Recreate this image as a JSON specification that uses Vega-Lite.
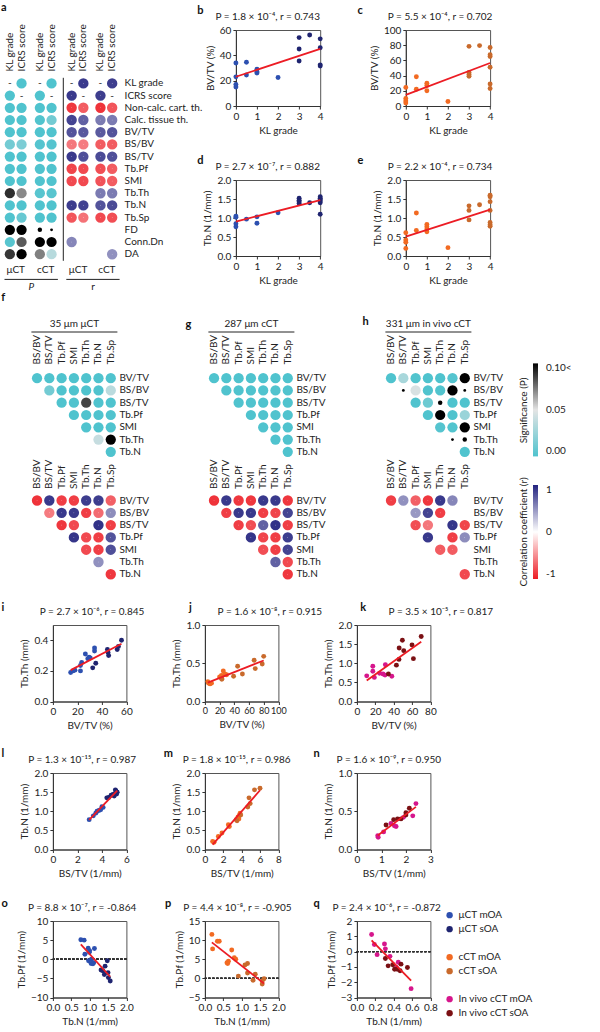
{
"$schema": "https://vega.github.io/schema/vega-lite/v6.json",
"padding": {"left": 1, "top": 1, "right": 0, "bottom": 0},
"background": "white",
"datasets": {
"amat": [
{"metric":"KL grade","modality":"μCT","score":"KL grade","P":null,"r":null},
{"metric":"KL grade","modality":"μCT","score":"ICRS score","P":0.0001,"r":0.9},
{"metric":"KL grade","modality":"cCT","score":"KL grade","P":null,"r":null},
{"metric":"KL grade","modality":"cCT","score":"ICRS score","P":0.0001,"r":0.88},
{"metric":"ICRS score","modality":"μCT","score":"KL grade","P":0.0001,"r":0.9},
{"metric":"ICRS score","modality":"μCT","score":"ICRS score","P":null,"r":null},
{"metric":"ICRS score","modality":"cCT","score":"KL grade","P":0.0001,"r":0.88},
{"metric":"ICRS score","modality":"cCT","score":"ICRS score","P":null,"r":null},
{"metric":"Non-calc. cart. th.","modality":"μCT","score":"KL grade","P":0.0001,"r":-0.88},
{"metric":"Non-calc. cart. th.","modality":"μCT","score":"ICRS score","P":0.0003,"r":-0.72},
{"metric":"Non-calc. cart. th.","modality":"cCT","score":"KL grade","P":0.0001,"r":-0.9},
{"metric":"Non-calc. cart. th.","modality":"cCT","score":"ICRS score","P":0.0002,"r":-0.75},
{"metric":"Calc. tissue th.","modality":"μCT","score":"KL grade","P":0.0001,"r":0.85},
{"metric":"Calc. tissue th.","modality":"μCT","score":"ICRS score","P":0.0005,"r":0.72},
{"metric":"Calc. tissue th.","modality":"cCT","score":"KL grade","P":0.001,"r":0.6},
{"metric":"Calc. tissue th.","modality":"cCT","score":"ICRS score","P":0.012,"r":0.6},
{"metric":"BV/TV","modality":"μCT","score":"KL grade","P":0.0002,"r":0.78},
{"metric":"BV/TV","modality":"μCT","score":"ICRS score","P":0.0004,"r":0.76},
{"metric":"BV/TV","modality":"cCT","score":"KL grade","P":0.0005,"r":0.75},
{"metric":"BV/TV","modality":"cCT","score":"ICRS score","P":0.0003,"r":0.78},
{"metric":"BS/BV","modality":"μCT","score":"KL grade","P":0.012,"r":-0.6},
{"metric":"BS/BV","modality":"μCT","score":"ICRS score","P":0.015,"r":-0.58},
{"metric":"BS/BV","modality":"cCT","score":"KL grade","P":0.002,"r":-0.72},
{"metric":"BS/BV","modality":"cCT","score":"ICRS score","P":0.002,"r":-0.72},
{"metric":"BS/TV","modality":"μCT","score":"KL grade","P":0.0001,"r":0.9},
{"metric":"BS/TV","modality":"μCT","score":"ICRS score","P":0.0002,"r":0.8},
{"metric":"BS/TV","modality":"cCT","score":"KL grade","P":0.0001,"r":0.82},
{"metric":"BS/TV","modality":"cCT","score":"ICRS score","P":0.0001,"r":0.8},
{"metric":"Tb.Pf","modality":"μCT","score":"KL grade","P":0.0001,"r":-0.82},
{"metric":"Tb.Pf","modality":"μCT","score":"ICRS score","P":0.0002,"r":-0.8},
{"metric":"Tb.Pf","modality":"cCT","score":"KL grade","P":0.0003,"r":-0.78},
{"metric":"Tb.Pf","modality":"cCT","score":"ICRS score","P":0.0004,"r":-0.72},
{"metric":"SMI","modality":"μCT","score":"KL grade","P":0.0001,"r":-0.8},
{"metric":"SMI","modality":"μCT","score":"ICRS score","P":0.0002,"r":-0.8},
{"metric":"SMI","modality":"cCT","score":"KL grade","P":0.0004,"r":-0.76},
{"metric":"SMI","modality":"cCT","score":"ICRS score","P":0.0004,"r":-0.72},
{"metric":"Tb.Th","modality":"μCT","score":"KL grade","P":0.09,"r":0.4},
{"metric":"Tb.Th","modality":"μCT","score":"ICRS score","P":0.07,"r":0.42},
{"metric":"Tb.Th","modality":"cCT","score":"KL grade","P":0.003,"r":0.6},
{"metric":"Tb.Th","modality":"cCT","score":"ICRS score","P":0.003,"r":0.6},
{"metric":"Tb.N","modality":"μCT","score":"KL grade","P":0.0001,"r":0.88},
{"metric":"Tb.N","modality":"μCT","score":"ICRS score","P":0.0001,"r":0.86},
{"metric":"Tb.N","modality":"cCT","score":"KL grade","P":0.0002,"r":0.78},
{"metric":"Tb.N","modality":"cCT","score":"ICRS score","P":0.0001,"r":0.82},
{"metric":"Tb.Sp","modality":"μCT","score":"KL grade","P":0.0005,"r":-0.75},
{"metric":"Tb.Sp","modality":"μCT","score":"ICRS score","P":0.008,"r":-0.62},
{"metric":"Tb.Sp","modality":"cCT","score":"KL grade","P":0.0005,"r":-0.8},
{"metric":"Tb.Sp","modality":"cCT","score":"ICRS score","P":0.0005,"r":-0.78},
{"metric":"FD","modality":"μCT","score":"KL grade","P":0.5,"r":0.2},
{"metric":"FD","modality":"μCT","score":"ICRS score","P":0.6,"r":0.15},
{"metric":"FD","modality":"cCT","score":"KL grade","P":0.7,"r":0.08},
{"metric":"FD","modality":"cCT","score":"ICRS score","P":0.9,"r":0.02},
{"metric":"Conn.Dn","modality":"μCT","score":"KL grade","P":0.003,"r":0.55},
{"metric":"Conn.Dn","modality":"μCT","score":"ICRS score","P":0.08,"r":0.4},
{"metric":"Conn.Dn","modality":"cCT","score":"KL grade","P":0.3,"r":0.25},
{"metric":"Conn.Dn","modality":"cCT","score":"ICRS score","P":0.4,"r":0.22},
{"metric":"DA","modality":"μCT","score":"KL grade","P":0.088,"r":0.4},
{"metric":"DA","modality":"μCT","score":"ICRS score","P":0.2,"r":0.3},
{"metric":"DA","modality":"cCT","score":"KL grade","P":0.072,"r":0.42},
{"metric":"DA","modality":"cCT","score":"ICRS score","P":0.035,"r":0.5}
],
"tri": [
{"set":"μCT","row":"BV/TV","col":"BS/BV","P":0.0001,"r":-0.9},
{"set":"μCT","row":"BV/TV","col":"BS/TV","P":0.0001,"r":0.9},
{"set":"μCT","row":"BV/TV","col":"Tb.Pf","P":0.0001,"r":-0.85},
{"set":"μCT","row":"BV/TV","col":"SMI","P":0.0001,"r":-0.85},
{"set":"μCT","row":"BV/TV","col":"Tb.Th","P":0.0001,"r":0.88},
{"set":"μCT","row":"BV/TV","col":"Tb.N","P":0.0001,"r":0.88},
{"set":"μCT","row":"BV/TV","col":"Tb.Sp","P":0.0003,"r":-0.7},
{"set":"μCT","row":"BS/BV","col":"BS/TV","P":0.012,"r":-0.58},
{"set":"μCT","row":"BS/BV","col":"Tb.Pf","P":0.0001,"r":0.9},
{"set":"μCT","row":"BS/BV","col":"SMI","P":0.0001,"r":0.9},
{"set":"μCT","row":"BS/BV","col":"Tb.Th","P":0.0001,"r":-0.85},
{"set":"μCT","row":"BS/BV","col":"Tb.N","P":0.0005,"r":-0.65},
{"set":"μCT","row":"BS/BV","col":"Tb.Sp","P":0.036,"r":0.52},
{"set":"μCT","row":"BS/TV","col":"Tb.Pf","P":0.0001,"r":-0.88},
{"set":"μCT","row":"BS/TV","col":"SMI","P":0.0002,"r":-0.8},
{"set":"μCT","row":"BS/TV","col":"Tb.Th","P":0.085,"r":0.35},
{"set":"μCT","row":"BS/TV","col":"Tb.N","P":0.0001,"r":0.93},
{"set":"μCT","row":"BS/TV","col":"Tb.Sp","P":0.0001,"r":-0.85},
{"set":"μCT","row":"Tb.Pf","col":"SMI","P":0.0001,"r":0.92},
{"set":"μCT","row":"Tb.Pf","col":"Tb.Th","P":0.0002,"r":-0.8},
{"set":"μCT","row":"Tb.Pf","col":"Tb.N","P":0.0001,"r":-0.85},
{"set":"μCT","row":"Tb.Pf","col":"Tb.Sp","P":0.0004,"r":0.78},
{"set":"μCT","row":"SMI","col":"Tb.Th","P":0.0002,"r":-0.8},
{"set":"μCT","row":"SMI","col":"Tb.N","P":0.0001,"r":-0.85},
{"set":"μCT","row":"SMI","col":"Tb.Sp","P":0.0003,"r":0.8},
{"set":"μCT","row":"Tb.Th","col":"Tb.N","P":0.04,"r":0.5},
{"set":"μCT","row":"Tb.Th","col":"Tb.Sp","P":0.3,"r":-0.3},
{"set":"μCT","row":"Tb.N","col":"Tb.Sp","P":0.0001,"r":-0.88},
{"set":"cCT","row":"BV/TV","col":"BS/BV","P":0.0001,"r":-0.9},
{"set":"cCT","row":"BV/TV","col":"BS/TV","P":0.0001,"r":0.9},
{"set":"cCT","row":"BV/TV","col":"Tb.Pf","P":0.0001,"r":-0.88},
{"set":"cCT","row":"BV/TV","col":"SMI","P":0.0001,"r":-0.88},
{"set":"cCT","row":"BV/TV","col":"Tb.Th","P":0.0001,"r":0.9},
{"set":"cCT","row":"BV/TV","col":"Tb.N","P":0.0001,"r":0.9},
{"set":"cCT","row":"BV/TV","col":"Tb.Sp","P":0.0001,"r":-0.88},
{"set":"cCT","row":"BS/BV","col":"BS/TV","P":0.0002,"r":-0.85},
{"set":"cCT","row":"BS/BV","col":"Tb.Pf","P":0.0001,"r":0.9},
{"set":"cCT","row":"BS/BV","col":"SMI","P":0.0001,"r":0.9},
{"set":"cCT","row":"BS/BV","col":"Tb.Th","P":0.0002,"r":-0.85},
{"set":"cCT","row":"BS/BV","col":"Tb.N","P":0.0003,"r":-0.82},
{"set":"cCT","row":"BS/BV","col":"Tb.Sp","P":0.0002,"r":0.85},
{"set":"cCT","row":"BS/TV","col":"Tb.Pf","P":0.0002,"r":-0.85},
{"set":"cCT","row":"BS/TV","col":"SMI","P":0.0004,"r":-0.78},
{"set":"cCT","row":"BS/TV","col":"Tb.Th","P":0.0005,"r":0.72},
{"set":"cCT","row":"BS/TV","col":"Tb.N","P":0.0001,"r":0.93},
{"set":"cCT","row":"BS/TV","col":"Tb.Sp","P":0.0002,"r":-0.85},
{"set":"cCT","row":"Tb.Pf","col":"SMI","P":0.0001,"r":0.92},
{"set":"cCT","row":"Tb.Pf","col":"Tb.Th","P":0.0002,"r":-0.82},
{"set":"cCT","row":"Tb.Pf","col":"Tb.N","P":0.0002,"r":-0.85},
{"set":"cCT","row":"Tb.Pf","col":"Tb.Sp","P":0.0001,"r":0.88},
{"set":"cCT","row":"SMI","col":"Tb.Th","P":0.0004,"r":-0.78},
{"set":"cCT","row":"SMI","col":"Tb.N","P":0.0002,"r":-0.85},
{"set":"cCT","row":"SMI","col":"Tb.Sp","P":0.0002,"r":0.85},
{"set":"cCT","row":"Tb.Th","col":"Tb.N","P":0.0005,"r":0.72},
{"set":"cCT","row":"Tb.Th","col":"Tb.Sp","P":0.0003,"r":-0.8},
{"set":"cCT","row":"Tb.N","col":"Tb.Sp","P":0.0001,"r":-0.88},
{"set":"in vivo","row":"BV/TV","col":"BS/BV","P":0.0001,"r":-0.85},
{"set":"in vivo","row":"BV/TV","col":"BS/TV","P":0.03,"r":0.5},
{"set":"in vivo","row":"BV/TV","col":"Tb.Pf","P":0.001,"r":-0.7},
{"set":"in vivo","row":"BV/TV","col":"SMI","P":0.0001,"r":-0.88},
{"set":"in vivo","row":"BV/TV","col":"Tb.Th","P":0.0001,"r":0.9},
{"set":"in vivo","row":"BV/TV","col":"Tb.N","P":0.002,"r":0.55},
{"set":"in vivo","row":"BV/TV","col":"Tb.Sp","P":0.4,"r":-0.2},
{"set":"in vivo","row":"BS/BV","col":"BS/TV","P":0.8,"r":0.04},
{"set":"in vivo","row":"BS/BV","col":"Tb.Pf","P":0.046,"r":0.47},
{"set":"in vivo","row":"BS/BV","col":"SMI","P":0.0005,"r":0.85},
{"set":"in vivo","row":"BS/BV","col":"Tb.Th","P":0.001,"r":-0.85},
{"set":"in vivo","row":"BS/BV","col":"Tb.N","P":0.3,"r":-0.25},
{"set":"in vivo","row":"BS/BV","col":"Tb.Sp","P":0.9,"r":0.03},
{"set":"in vivo","row":"BS/TV","col":"Tb.Pf","P":0.0005,"r":-0.78},
{"set":"in vivo","row":"BS/TV","col":"SMI","P":0.01,"r":-0.6},
{"set":"in vivo","row":"BS/TV","col":"Tb.Th","P":0.7,"r":0.06},
{"set":"in vivo","row":"BS/TV","col":"Tb.N","P":0.0001,"r":0.92},
{"set":"in vivo","row":"BS/TV","col":"Tb.Sp","P":0.0002,"r":-0.82},
{"set":"in vivo","row":"Tb.Pf","col":"SMI","P":0.0002,"r":0.9},
{"set":"in vivo","row":"Tb.Pf","col":"Tb.Th","P":0.25,"r":-0.3},
{"set":"in vivo","row":"Tb.Pf","col":"Tb.N","P":0.0005,"r":-0.85},
{"set":"in vivo","row":"Tb.Pf","col":"Tb.Sp","P":0.025,"r":0.52},
{"set":"in vivo","row":"SMI","col":"Tb.Th","P":0.002,"r":-0.72},
{"set":"in vivo","row":"SMI","col":"Tb.N","P":0.001,"r":-0.72},
{"set":"in vivo","row":"SMI","col":"Tb.Sp","P":0.2,"r":0.3},
{"set":"in vivo","row":"Tb.Th","col":"Tb.N","P":0.8,"r":0.03},
{"set":"in vivo","row":"Tb.Th","col":"Tb.Sp","P":0.75,"r":-0.07},
{"set":"in vivo","row":"Tb.N","col":"Tb.Sp","P":0.0005,"r":-0.8}
],
"sb": [
{"x":0,"y":34,"group":"μCT mOA"},{"x":0,"y":23,"group":"μCT mOA"},{"x":0,"y":17,"group":"μCT mOA"},{"x":0,"y":15,"group":"μCT mOA"},{"x":0.5,"y":34.5,"group":"μCT mOA"},{"x":0.5,"y":24.5,"group":"μCT mOA"},{"x":1,"y":29,"group":"μCT mOA"},{"x":1,"y":27,"group":"μCT mOA"},{"x":1,"y":26,"group":"μCT mOA"},{"x":2,"y":22.5,"group":"μCT mOA"},
{"x":3,"y":54,"group":"μCT sOA"},{"x":3,"y":45,"group":"μCT sOA"},{"x":3,"y":35.5,"group":"μCT sOA"},{"x":3.5,"y":56,"group":"μCT sOA"},{"x":4,"y":53,"group":"μCT sOA"},{"x":4,"y":46,"group":"μCT sOA"},{"x":4,"y":32.5,"group":"μCT sOA"},{"x":4,"y":31.5,"group":"μCT sOA"}
],
"sc": [
{"x":0,"y":24.5,"group":"cCT mOA"},{"x":0,"y":10,"group":"cCT mOA"},{"x":0,"y":6.5,"group":"cCT mOA"},{"x":0,"y":4,"group":"cCT mOA"},{"x":0.5,"y":38.5,"group":"cCT mOA"},{"x":0.5,"y":22,"group":"cCT mOA"},{"x":1,"y":30,"group":"cCT mOA"},{"x":1,"y":27,"group":"cCT mOA"},{"x":1,"y":20,"group":"cCT mOA"},{"x":2,"y":6,"group":"cCT mOA"},
{"x":3,"y":78.5,"group":"cCT sOA"},{"x":3,"y":44,"group":"cCT sOA"},{"x":3,"y":41.5,"group":"cCT sOA"},{"x":3,"y":39,"group":"cCT sOA"},{"x":3.5,"y":79.5,"group":"cCT sOA"},{"x":4,"y":77,"group":"cCT sOA"},{"x":4,"y":67.5,"group":"cCT sOA"},{"x":4,"y":65,"group":"cCT sOA"},{"x":4,"y":51,"group":"cCT sOA"},{"x":4,"y":29,"group":"cCT sOA"},{"x":4,"y":23,"group":"cCT sOA"}
],
"sd": [
{"x":0,"y":1.05,"group":"μCT mOA"},{"x":0,"y":1.02,"group":"μCT mOA"},{"x":0,"y":0.85,"group":"μCT mOA"},{"x":0,"y":0.77,"group":"μCT mOA"},{"x":0.5,"y":0.97,"group":"μCT mOA"},{"x":1,"y":1.03,"group":"μCT mOA"},{"x":1,"y":0.86,"group":"μCT mOA"},{"x":2,"y":1.14,"group":"μCT mOA"},
{"x":3,"y":1.52,"group":"μCT sOA"},{"x":3,"y":1.47,"group":"μCT sOA"},{"x":3,"y":1.43,"group":"μCT sOA"},{"x":3,"y":1.38,"group":"μCT sOA"},{"x":3.5,"y":1.4,"group":"μCT sOA"},{"x":4,"y":1.56,"group":"μCT sOA"},{"x":4,"y":1.52,"group":"μCT sOA"},{"x":4,"y":1.48,"group":"μCT sOA"},{"x":4,"y":1.45,"group":"μCT sOA"},{"x":4,"y":1.4,"group":"μCT sOA"},{"x":4,"y":1.1,"group":"μCT sOA"}
],
"se": [
{"x":0,"y":0.61,"group":"cCT mOA"},{"x":0,"y":0.42,"group":"cCT mOA"},{"x":0,"y":0.36,"group":"cCT mOA"},{"x":0,"y":0.2,"group":"cCT mOA"},{"x":0.5,"y":1.13,"group":"cCT mOA"},{"x":0.5,"y":0.67,"group":"cCT mOA"},{"x":1,"y":0.83,"group":"cCT mOA"},{"x":1,"y":0.77,"group":"cCT mOA"},{"x":1,"y":0.71,"group":"cCT mOA"},{"x":1,"y":0.64,"group":"cCT mOA"},{"x":2,"y":0.22,"group":"cCT mOA"},
{"x":3,"y":1.32,"group":"cCT sOA"},{"x":3,"y":1.2,"group":"cCT sOA"},{"x":3,"y":0.95,"group":"cCT sOA"},{"x":3.5,"y":1.35,"group":"cCT sOA"},{"x":4,"y":1.6,"group":"cCT sOA"},{"x":4,"y":1.56,"group":"cCT sOA"},{"x":4,"y":1.43,"group":"cCT sOA"},{"x":4,"y":1.2,"group":"cCT sOA"},{"x":4,"y":0.88,"group":"cCT sOA"},{"x":4,"y":0.82,"group":"cCT sOA"},{"x":4,"y":0.78,"group":"cCT sOA"}
],
"si": [
{"x":14.5,"y":0.19,"group":"μCT mOA"},{"x":16.5,"y":0.2,"group":"μCT mOA"},{"x":18,"y":0.205,"group":"μCT mOA"},{"x":22.5,"y":0.2,"group":"μCT mOA"},{"x":22.5,"y":0.235,"group":"μCT mOA"},{"x":23.5,"y":0.255,"group":"μCT mOA"},{"x":26.5,"y":0.31,"group":"μCT mOA"},{"x":28.5,"y":0.28,"group":"μCT mOA"},{"x":29.5,"y":0.29,"group":"μCT mOA"},{"x":30.5,"y":0.285,"group":"μCT mOA"},{"x":34,"y":0.35,"group":"μCT mOA"},{"x":34,"y":0.33,"group":"μCT mOA"},
{"x":32.5,"y":0.22,"group":"μCT sOA"},{"x":35,"y":0.25,"group":"μCT sOA"},{"x":44.5,"y":0.34,"group":"μCT sOA"},{"x":45,"y":0.32,"group":"μCT sOA"},{"x":45.5,"y":0.3,"group":"μCT sOA"},{"x":52.5,"y":0.34,"group":"μCT sOA"},{"x":53.5,"y":0.36,"group":"μCT sOA"},{"x":56,"y":0.4,"group":"μCT sOA"}
],
"sj": [
{"x":4,"y":0.26,"group":"cCT mOA"},{"x":5,"y":0.24,"group":"cCT mOA"},{"x":7,"y":0.23,"group":"cCT mOA"},{"x":9,"y":0.24,"group":"cCT mOA"},{"x":20,"y":0.32,"group":"cCT mOA"},{"x":22.5,"y":0.34,"group":"cCT mOA"},{"x":23,"y":0.3,"group":"cCT mOA"},{"x":25,"y":0.4,"group":"cCT mOA"},{"x":27,"y":0.36,"group":"cCT mOA"},{"x":29.5,"y":0.35,"group":"cCT mOA"},
{"x":23,"y":0.29,"group":"cCT sOA"},{"x":39,"y":0.33,"group":"cCT sOA"},{"x":44.5,"y":0.46,"group":"cCT sOA"},{"x":51,"y":0.36,"group":"cCT sOA"},{"x":67,"y":0.54,"group":"cCT sOA"},{"x":68.5,"y":0.43,"group":"cCT sOA"},{"x":78,"y":0.49,"group":"cCT sOA"},{"x":80,"y":0.59,"group":"cCT sOA"}
],
"sk": [
{"x":10.7,"y":0.67,"group":"In vivo cCT mOA"},{"x":17.3,"y":0.92,"group":"In vivo cCT mOA"},{"x":17.3,"y":0.79,"group":"In vivo cCT mOA"},{"x":19,"y":0.63,"group":"In vivo cCT mOA"},{"x":24.7,"y":0.74,"group":"In vivo cCT mOA"},{"x":28.4,"y":0.72,"group":"In vivo cCT mOA"},{"x":31,"y":0.96,"group":"In vivo cCT mOA"},{"x":30.6,"y":0.69,"group":"In vivo cCT mOA"},{"x":38,"y":0.66,"group":"In vivo cCT mOA"},
{"x":34.3,"y":0.72,"group":"In vivo cCT sOA"},{"x":43,"y":0.95,"group":"In vivo cCT sOA"},{"x":45.8,"y":1.1,"group":"In vivo cCT sOA"},{"x":46,"y":1.4,"group":"In vivo cCT sOA"},{"x":49.5,"y":1.6,"group":"In vivo cCT sOA"},{"x":51,"y":1.33,"group":"In vivo cCT sOA"},{"x":60,"y":1.48,"group":"In vivo cCT sOA"},{"x":61.5,"y":1.12,"group":"In vivo cCT sOA"},{"x":70,"y":1.7,"group":"In vivo cCT sOA"}
],
"sl": [
{"x":2.96,"y":0.78,"group":"μCT mOA"},{"x":3.3,"y":0.88,"group":"μCT mOA"},{"x":3.5,"y":0.95,"group":"μCT mOA"},{"x":3.6,"y":1.0,"group":"μCT mOA"},{"x":3.75,"y":1.02,"group":"μCT mOA"},{"x":3.9,"y":1.04,"group":"μCT mOA"},{"x":4.0,"y":1.12,"group":"μCT mOA"},{"x":4.1,"y":1.1,"group":"μCT mOA"},
{"x":4.4,"y":1.35,"group":"μCT sOA"},{"x":4.55,"y":1.36,"group":"μCT sOA"},{"x":4.75,"y":1.42,"group":"μCT sOA"},{"x":4.9,"y":1.44,"group":"μCT sOA"},{"x":5.0,"y":1.4,"group":"μCT sOA"},{"x":5.05,"y":1.46,"group":"μCT sOA"},{"x":5.1,"y":1.56,"group":"μCT sOA"},{"x":5.15,"y":1.53,"group":"μCT sOA"},{"x":5.2,"y":1.5,"group":"μCT sOA"},{"x":5.2,"y":1.45,"group":"μCT sOA"},{"x":5.25,"y":1.5,"group":"μCT sOA"}
],
"sm": [
{"x":0.84,"y":0.21,"group":"cCT mOA"},{"x":1.0,"y":0.19,"group":"cCT mOA"},{"x":1.46,"y":0.34,"group":"cCT mOA"},{"x":1.86,"y":0.43,"group":"cCT mOA"},{"x":2.55,"y":0.65,"group":"cCT mOA"},{"x":2.66,"y":0.6,"group":"cCT mOA"},{"x":3.4,"y":0.78,"group":"cCT mOA"},{"x":3.6,"y":0.85,"group":"cCT mOA"},{"x":3.7,"y":0.8,"group":"cCT mOA"},{"x":3.76,"y":0.89,"group":"cCT mOA"},{"x":3.83,"y":0.95,"group":"cCT mOA"},
{"x":3.5,"y":0.75,"group":"cCT sOA"},{"x":3.9,"y":0.9,"group":"cCT sOA"},{"x":4.67,"y":1.11,"group":"cCT sOA"},{"x":4.8,"y":1.35,"group":"cCT sOA"},{"x":4.93,"y":1.2,"group":"cCT sOA"},{"x":5.4,"y":1.56,"group":"cCT sOA"},{"x":6.0,"y":1.6,"group":"cCT sOA"}
],
"sn": [
{"x":0.85,"y":0.18,"group":"In vivo cCT mOA"},{"x":0.87,"y":0.16,"group":"In vivo cCT mOA"},{"x":1.09,"y":0.23,"group":"In vivo cCT mOA"},{"x":1.39,"y":0.34,"group":"In vivo cCT mOA"},{"x":1.53,"y":0.31,"group":"In vivo cCT mOA"},{"x":1.6,"y":0.3,"group":"In vivo cCT mOA"},{"x":1.9,"y":0.42,"group":"In vivo cCT mOA"},{"x":2.28,"y":0.44,"group":"In vivo cCT mOA"},{"x":2.41,"y":0.6,"group":"In vivo cCT mOA"},
{"x":1.19,"y":0.32,"group":"In vivo cCT sOA"},{"x":1.5,"y":0.39,"group":"In vivo cCT sOA"},{"x":1.66,"y":0.4,"group":"In vivo cCT sOA"},{"x":1.8,"y":0.4,"group":"In vivo cCT sOA"},{"x":2.0,"y":0.48,"group":"In vivo cCT sOA"},{"x":2.0,"y":0.45,"group":"In vivo cCT sOA"},{"x":2.14,"y":0.54,"group":"In vivo cCT sOA"}
],
"so": [
{"x":0.76,"y":5.1,"group":"μCT mOA"},{"x":0.85,"y":5.0,"group":"μCT mOA"},{"x":0.87,"y":1.3,"group":"μCT mOA"},{"x":0.96,"y":2.9,"group":"μCT mOA"},{"x":0.99,"y":1.8,"group":"μCT mOA"},{"x":1.0,"y":2.2,"group":"μCT mOA"},{"x":0.97,"y":-0.4,"group":"μCT mOA"},{"x":1.04,"y":-1.1,"group":"μCT mOA"},{"x":1.05,"y":0,"group":"μCT mOA"},{"x":1.11,"y":-0.9,"group":"μCT mOA"},{"x":1.13,"y":2.8,"group":"μCT mOA"},{"x":1.09,"y":-1.2,"group":"μCT mOA"},
{"x":1.31,"y":-2.8,"group":"μCT sOA"},{"x":1.36,"y":-3.0,"group":"μCT sOA"},{"x":1.4,"y":-4.0,"group":"μCT sOA"},{"x":1.42,"y":-1.8,"group":"μCT sOA"},{"x":1.48,"y":-0.4,"group":"μCT sOA"},{"x":1.5,"y":-3.5,"group":"μCT sOA"},{"x":1.51,"y":-4.8,"group":"μCT sOA"},{"x":1.56,"y":-5.7,"group":"μCT sOA"}
],
"sp": [
{"x":0.19,"y":11.5,"group":"cCT mOA"},{"x":0.21,"y":7.7,"group":"cCT mOA"},{"x":0.34,"y":9.7,"group":"cCT mOA"},{"x":0.39,"y":9.7,"group":"cCT mOA"},{"x":0.6,"y":4.1,"group":"cCT mOA"},{"x":0.64,"y":4.5,"group":"cCT mOA"},{"x":0.62,"y":3.9,"group":"cCT mOA"},{"x":0.73,"y":7.4,"group":"cCT mOA"},{"x":0.8,"y":5.4,"group":"cCT mOA"},{"x":0.84,"y":5.0,"group":"cCT mOA"},
{"x":0.91,"y":0.6,"group":"cCT sOA"},{"x":1.09,"y":3.5,"group":"cCT sOA"},{"x":1.16,"y":3.9,"group":"cCT sOA"},{"x":1.16,"y":1.4,"group":"cCT sOA"},{"x":1.37,"y":1.1,"group":"cCT sOA"},{"x":1.31,"y":-0.5,"group":"cCT sOA"},{"x":1.56,"y":-1.5,"group":"cCT sOA"},{"x":1.61,"y":-0.1,"group":"cCT sOA"},{"x":1.56,"y":-0.7,"group":"cCT sOA"}
],
"sq": [
{"x":0.16,"y":1.12,"group":"In vivo cCT mOA"},{"x":0.19,"y":0.46,"group":"In vivo cCT mOA"},{"x":0.22,"y":-0.2,"group":"In vivo cCT mOA"},{"x":0.3,"y":0.5,"group":"In vivo cCT mOA"},{"x":0.31,"y":0.18,"group":"In vivo cCT mOA"},{"x":0.36,"y":-0.31,"group":"In vivo cCT mOA"},{"x":0.45,"y":-0.7,"group":"In vivo cCT mOA"},{"x":0.59,"y":-2.42,"group":"In vivo cCT mOA"},{"x":0.43,"y":-1.04,"group":"In vivo cCT mOA"},
{"x":0.31,"y":-0.45,"group":"In vivo cCT sOA"},{"x":0.34,"y":-0.93,"group":"In vivo cCT sOA"},{"x":0.39,"y":-0.86,"group":"In vivo cCT sOA"},{"x":0.41,"y":-1.15,"group":"In vivo cCT sOA"},{"x":0.44,"y":-1.15,"group":"In vivo cCT sOA"},{"x":0.47,"y":-1.25,"group":"In vivo cCT sOA"},{"x":0.48,"y":-0.82,"group":"In vivo cCT sOA"},{"x":0.55,"y":-1.04,"group":"In vivo cCT sOA"}
]
},
"concat": [
{"concat": [
 {"concat": [
  {"width": 1, "height": 1, "data": {"values": []}, "mark": "point"},
  {"width": 1, "height": 1, "data": {"values": []}, "mark": "point"},
  {"width": 53.4, "height": 183,
   "title": {"text": "a", "dx": -3, "dy": -7.5},
   "data": {"name": "amat"},
   "resolve": {"axis": {"x": "independent", "y": "independent"}},
   "layer": [
    {"transform": [{"filter": "datum.metric !== datum.score"}],
     "mark": {"type": "circle", "opacity": 1},
     "encoding": {
      "x": {"field": "modality", "type": "nominal", "scale": {"type": "band", "domain": ["μCT","cCT"], "paddingInner": 0.22, "paddingOuter": 0}, "axis": {"orient": "bottom", "title": null, "ticks": false, "tickSize": 0, "domain": false, "labelAngle": 0, "labelPadding": 4}},
      "xOffset": {"field": "score", "type": "nominal", "scale": {"type": "band", "domain": ["KL grade","ICRS score"], "paddingInner": 0, "paddingOuter": 0}},
      "y": {"field": "metric", "type": "nominal", "scale": {"type": "band", "domain": ["KL grade","ICRS score","Non-calc. cart. th.","Calc. tissue th.","BV/TV","BS/BV","BS/TV","Tb.Pf","SMI","Tb.Th","Tb.N","Tb.Sp","FD","Conn.Dn","DA"], "paddingInner": 0, "paddingOuter": 0}, "axis": null},
      "fill": {"field": "P", "type": "quantitative", "scale": {"domain": [0, 0.05, 0.1], "range": ["#4fc3ce", "#e4e4e4", "#000000"], "clamp": true, "interpolate": "rgb"},
        "legend": {"orient": "none", "legendX": 515, "legendY": 333.4, "title": "Significance (P)", "titleOrient": "left", "titleAngle": 270, "titleAnchor": "middle", "titlePadding": 3, "gradientLength": 93, "gradientThickness": 5, "gradientStrokeWidth": 0, "values": [0, 0.05, 0.1], "labelExpr": "datum.value >= 0.1 ? '0.10<' : format(datum.value, '.2f')", "labelOffset": 8, "direction": "vertical",
          "encode": {"labels": {"update": {"angle": {"value": 270}, "align": {"signal": "datum.value >= 0.1 ? 'right' : datum.value > 0 ? 'center' : 'left'"}, "baseline": {"value": "middle"}}}}}},
      "size": {"field": "r", "type": "quantitative", "scale": {"type": "threshold", "domain": [-0.1, -0.05, 0.05, 0.1], "range": [105, 20, 8, 20, 105]}, "legend": null}
     }},
    {"transform": [{"filter": "datum.metric === datum.score"}],
     "mark": {"type": "text", "text": "-", "fontSize": 10, "color": "#222"},
     "encoding": {
      "x": {"field": "modality", "type": "nominal", "scale": {"type": "band", "domain": ["μCT","cCT"], "paddingInner": 0.22, "paddingOuter": 0}, "axis": {"orient": "bottom", "offset": 18.6, "labels": false, "ticks": false, "domain": true, "domainColor": "#222", "title": "P", "titleFontStyle": "italic", "titlePadding": 3}},
      "xOffset": {"field": "score", "type": "nominal", "scale": {"type": "band", "domain": ["KL grade","ICRS score"], "paddingInner": 0, "paddingOuter": 0}},
      "y": {"field": "metric", "type": "nominal", "scale": {"type": "band", "domain": ["KL grade","ICRS score","Non-calc. cart. th.","Calc. tissue th.","BV/TV","BS/BV","BS/TV","Tb.Pf","SMI","Tb.Th","Tb.N","Tb.Sp","FD","Conn.Dn","DA"], "paddingInner": 0, "paddingOuter": 0}, "axis": null}
     }},
    {"transform": [{"filter": "datum.metric === 'KL grade'"}],
     "mark": {"type": "text", "angle": 270, "align": "left", "baseline": "middle", "dx": 12, "fontSize": 10, "color": "#222"},
     "encoding": {
      "x": {"field": "modality", "type": "nominal", "scale": {"type": "band", "domain": ["μCT","cCT"], "paddingInner": 0.22, "paddingOuter": 0}, "axis": null},
      "xOffset": {"field": "score", "type": "nominal", "scale": {"type": "band", "domain": ["KL grade","ICRS score"], "paddingInner": 0, "paddingOuter": 0}},
      "y": {"field": "metric", "type": "nominal", "scale": {"type": "band", "domain": ["KL grade","ICRS score","Non-calc. cart. th.","Calc. tissue th.","BV/TV","BS/BV","BS/TV","Tb.Pf","SMI","Tb.Th","Tb.N","Tb.Sp","FD","Conn.Dn","DA"], "paddingInner": 0, "paddingOuter": 0}, "axis": null},
      "text": {"field": "score"}
     }}
   ]},
  {"width": 53.3, "height": 183,
   "data": {"name": "amat"},
   "resolve": {"axis": {"x": "independent", "y": "independent"}},
   "layer": [
    {"transform": [{"filter": "datum.metric !== datum.score && datum.P < 0.05"}],
     "mark": {"type": "circle", "filled": false, "size": 24, "strokeWidth": 5.5, "opacity": 1},
     "encoding": {
      "x": {"field": "modality", "type": "nominal", "scale": {"type": "band", "domain": ["μCT","cCT"], "paddingInner": 0.15, "paddingOuter": 0}, "axis": {"orient": "bottom", "title": null, "ticks": false, "tickSize": 0, "domain": false, "labelAngle": 0, "labelPadding": 4}},
      "xOffset": {"field": "score", "type": "nominal", "scale": {"type": "band", "domain": ["KL grade","ICRS score"], "paddingInner": 0, "paddingOuter": 0}},
      "y": {"field": "metric", "type": "nominal", "scale": {"type": "band", "domain": ["KL grade","ICRS score","Non-calc. cart. th.","Calc. tissue th.","BV/TV","BS/BV","BS/TV","Tb.Pf","SMI","Tb.Th","Tb.N","Tb.Sp","FD","Conn.Dn","DA"], "paddingInner": 0, "paddingOuter": 0}, "axis": {"orient": "right", "title": null, "ticks": false, "tickSize": 0, "domain": false, "labelPadding": 5}},
      "stroke": {"field": "r", "type": "quantitative", "scale": {"domain": [-1, 0, 1], "range": ["#ed1c24", "#ffffff", "#23237f"], "interpolate": "rgb"},
        "legend": {"orient": "none", "legendX": 515, "legendY": 455, "title": "Correlation coefficient (r)", "titleOrient": "left", "titleAngle": 270, "titleAnchor": "middle", "titlePadding": 3, "gradientLength": 94, "gradientThickness": 5, "gradientStrokeWidth": 0, "values": [-1, 0, 1], "labelExpr": "datum.value < 0 ? '-1' : datum.value > 0 ? '1' : '0'", "labelOffset": 8, "direction": "vertical",
          "encode": {"labels": {"update": {"angle": {"value": 270}, "align": {"signal": "datum.value > 0 ? 'right' : datum.value === 0 ? 'center' : 'left'"}, "baseline": {"value": "middle"}}}}}}
     }},
    {"transform": [{"filter": "datum.metric === datum.score"}],
     "mark": {"type": "text", "text": "-", "fontSize": 10, "color": "#222"},
     "encoding": {
      "x": {"field": "modality", "type": "nominal", "scale": {"type": "band", "domain": ["μCT","cCT"], "paddingInner": 0.15, "paddingOuter": 0}, "axis": {"orient": "bottom", "offset": 18.6, "labels": false, "ticks": false, "domain": true, "domainColor": "#222", "title": "r", "titlePadding": 3}},
      "xOffset": {"field": "score", "type": "nominal", "scale": {"type": "band", "domain": ["KL grade","ICRS score"], "paddingInner": 0, "paddingOuter": 0}},
      "y": {"field": "metric", "type": "nominal", "scale": {"type": "band", "domain": ["KL grade","ICRS score","Non-calc. cart. th.","Calc. tissue th.","BV/TV","BS/BV","BS/TV","Tb.Pf","SMI","Tb.Th","Tb.N","Tb.Sp","FD","Conn.Dn","DA"], "paddingInner": 0, "paddingOuter": 0}, "axis": {"orient": "left", "title": null, "labels": false, "ticks": false, "domain": true, "domainColor": "#222", "offset": 3}}
     }},
    {"transform": [{"filter": "datum.metric === 'KL grade'"}],
     "mark": {"type": "text", "angle": 270, "align": "left", "baseline": "middle", "dx": 12, "fontSize": 10, "color": "#222"},
     "encoding": {
      "x": {"field": "modality", "type": "nominal", "scale": {"type": "band", "domain": ["μCT","cCT"], "paddingInner": 0.15, "paddingOuter": 0}, "axis": null},
      "xOffset": {"field": "score", "type": "nominal", "scale": {"type": "band", "domain": ["KL grade","ICRS score"], "paddingInner": 0, "paddingOuter": 0}},
      "y": {"field": "metric", "type": "nominal", "scale": {"type": "band", "domain": ["KL grade","ICRS score","Non-calc. cart. th.","Calc. tissue th.","BV/TV","BS/BV","BS/TV","Tb.Pf","SMI","Tb.Th","Tb.N","Tb.Sp","FD","Conn.Dn","DA"], "paddingInner": 0, "paddingOuter": 0}, "axis": null},
      "text": {"field": "score"}
     }}
   ]}
 ], "columns": 2, "spacing": {"row": 46.3, "column": 7.8}, "bounds": "flush"},
 {"hconcat": [
  {"vconcat": [
   {"width": 84.3, "height": 76, "view": {"stroke": "#555"},
    "title": {"text": "b", "dx": -38.7, "dy": 8.7},
    "data": {"name": "sb"},
    "resolve": {"axis": {"x": "independent", "y": "independent"}},
    "layer": [
     {"mark": {"type": "circle", "size": 24, "opacity": 1},
      "encoding": {
       "x": {"field": "x", "type": "quantitative", "scale": {"domain": [0, 4], "nice": false}, "axis": {"title": "KL grade", "values": [0, 1, 2, 3, 4]}},
       "y": {"field": "y", "type": "quantitative", "scale": {"domain": [0, 60], "nice": false}, "axis": {"title": "BV/TV (%)", "values": [0, 20, 40, 60]}},
       "color": {"field": "group", "type": "nominal", "scale": {"domain": ["μCT mOA", "μCT sOA", " ", "cCT mOA", "cCT sOA", "  ", "In vivo cCT mOA", "In vivo cCT sOA"], "range": ["#2d50b0", "#1f2470", "transparent", "#f26a22", "#c96a2c", "transparent", "#d6168c", "#7b1014"]},
         "legend": {"orient": "none", "legendX": 440.6, "legendY": 880.2, "title": null, "symbolType": "circle", "symbolSize": 40, "symbolStrokeWidth": 0, "rowPadding": 4, "labelOffset": 4, "direction": "vertical"}}
      }},
     {"transform": [{"regression": "y", "on": "x"}],
      "mark": {"type": "line", "color": "#ec1c24", "strokeWidth": 1.8},
      "encoding": {
       "x": {"field": "x", "type": "quantitative", "scale": {"domain": [0, 4], "nice": false}, "axis": {"orient": "top", "title": "P = 1.8 × 10⁻⁴, r = 0.743", "titleX": 31.3, "labels": false, "ticks": false, "domain": false, "titlePadding": 9}},
       "y": {"field": "y", "type": "quantitative", "scale": {"domain": [0, 60], "nice": false}, "axis": null}
      }}
    ]},
   {"width": 84.3, "height": 76, "view": {"stroke": "#555"},
    "title": {"text": "d", "dx": -38.7, "dy": 8.7},
    "data": {"name": "sd"},
    "resolve": {"axis": {"x": "independent", "y": "independent"}},
    "layer": [
     {"mark": {"type": "circle", "size": 24, "opacity": 1},
      "encoding": {
       "x": {"field": "x", "type": "quantitative", "scale": {"domain": [0, 4], "nice": false}, "axis": {"title": "KL grade", "values": [0, 1, 2, 3, 4]}},
       "y": {"field": "y", "type": "quantitative", "scale": {"domain": [0, 2], "nice": false}, "axis": {"title": "Tb.N (1/mm)", "values": [0, 0.5, 1, 1.5, 2], "format": ".1f"}},
       "color": {"field": "group", "type": "nominal", "scale": {"domain": ["μCT mOA", "μCT sOA", " ", "cCT mOA", "cCT sOA", "  ", "In vivo cCT mOA", "In vivo cCT sOA"], "range": ["#2d50b0", "#1f2470", "transparent", "#f26a22", "#c96a2c", "transparent", "#d6168c", "#7b1014"]}}
      }},
     {"transform": [{"regression": "y", "on": "x"}],
      "mark": {"type": "line", "color": "#ec1c24", "strokeWidth": 1.8},
      "encoding": {
       "x": {"field": "x", "type": "quantitative", "scale": {"domain": [0, 4], "nice": false}, "axis": {"orient": "top", "title": "P = 2.7 × 10⁻⁷, r = 0.882", "titleX": 31.3, "labels": false, "ticks": false, "domain": false, "titlePadding": 9}},
       "y": {"field": "y", "type": "quantitative", "scale": {"domain": [0, 2], "nice": false}, "axis": null}
      }}
    ]}
  ], "spacing": 74, "bounds": "flush"},
  {"vconcat": [
   {"width": 84.3, "height": 76, "view": {"stroke": "#555"},
    "title": {"text": "c", "dx": -48.3, "dy": 8.7},
    "data": {"name": "sc"},
    "resolve": {"axis": {"x": "independent", "y": "independent"}},
    "layer": [
     {"mark": {"type": "circle", "size": 24, "opacity": 1},
      "encoding": {
       "x": {"field": "x", "type": "quantitative", "scale": {"domain": [0, 4], "nice": false}, "axis": {"title": "KL grade", "values": [0, 1, 2, 3, 4]}},
       "y": {"field": "y", "type": "quantitative", "scale": {"domain": [0, 100], "nice": false}, "axis": {"title": "BV/TV (%)", "values": [0, 20, 40, 60, 80, 100]}},
       "color": {"field": "group", "type": "nominal", "scale": {"domain": ["μCT mOA", "μCT sOA", " ", "cCT mOA", "cCT sOA", "  ", "In vivo cCT mOA", "In vivo cCT sOA"], "range": ["#2d50b0", "#1f2470", "transparent", "#f26a22", "#c96a2c", "transparent", "#d6168c", "#7b1014"]}}
      }},
     {"transform": [{"regression": "y", "on": "x"}],
      "mark": {"type": "line", "color": "#ec1c24", "strokeWidth": 1.8},
      "encoding": {
       "x": {"field": "x", "type": "quantitative", "scale": {"domain": [0, 4], "nice": false}, "axis": {"orient": "top", "title": "P = 5.5 × 10⁻⁴, r = 0.702", "titleX": 33.8, "labels": false, "ticks": false, "domain": false, "titlePadding": 9}},
       "y": {"field": "y", "type": "quantitative", "scale": {"domain": [0, 100], "nice": false}, "axis": null}
      }}
    ]},
   {"width": 84.3, "height": 76, "view": {"stroke": "#555"},
    "title": {"text": "e", "dx": -48.3, "dy": 8.7},
    "data": {"name": "se"},
    "resolve": {"axis": {"x": "independent", "y": "independent"}},
    "layer": [
     {"mark": {"type": "circle", "size": 24, "opacity": 1},
      "encoding": {
       "x": {"field": "x", "type": "quantitative", "scale": {"domain": [0, 4], "nice": false}, "axis": {"title": "KL grade", "values": [0, 1, 2, 3, 4]}},
       "y": {"field": "y", "type": "quantitative", "scale": {"domain": [0, 2], "nice": false}, "axis": {"title": "Tb.N (1/mm)", "values": [0, 0.5, 1, 1.5, 2], "format": ".1f"}},
       "color": {"field": "group", "type": "nominal", "scale": {"domain": ["μCT mOA", "μCT sOA", " ", "cCT mOA", "cCT sOA", "  ", "In vivo cCT mOA", "In vivo cCT sOA"], "range": ["#2d50b0", "#1f2470", "transparent", "#f26a22", "#c96a2c", "transparent", "#d6168c", "#7b1014"]}}
      }},
     {"transform": [{"regression": "y", "on": "x"}],
      "mark": {"type": "line", "color": "#ec1c24", "strokeWidth": 1.8},
      "encoding": {
       "x": {"field": "x", "type": "quantitative", "scale": {"domain": [0, 4], "nice": false}, "axis": {"orient": "top", "title": "P = 2.2 × 10⁻⁴, r = 0.734", "titleX": 33.8, "labels": false, "ticks": false, "domain": false, "titlePadding": 9}},
       "y": {"field": "y", "type": "quantitative", "scale": {"domain": [0, 2], "nice": false}, "axis": null}
      }}
    ]}
  ], "spacing": 74, "bounds": "flush"}
 ], "spacing": 31.9}
], "columns": 2, "spacing": -6.1},
{"concat": [
{"hconcat": [
 {"width": 1, "height": 1, "data": {"values": []}, "mark": "point"},
 {"hconcat": [
 {"vconcat": [
  {"width": 86, "height": 86, "title": {"text": "f", "dx": -29.6, "dy": -12},
   "data": {"name": "tri"}, "transform": [{"filter": "datum.set === 'μCT'"}],
   "resolve": {"axis": {"x": "independent"}},
   "layer": [
    {"mark": {"type": "circle", "opacity": 1},
     "encoding": {
      "x": {"field": "col", "type": "nominal", "scale": {"type": "band", "domain": ["BS/BV","BS/TV","Tb.Pf","SMI","Tb.Th","Tb.N","Tb.Sp"], "paddingInner": 0, "paddingOuter": 0}, "axis": {"orient": "top", "title": null, "labelAngle": -90, "labelAlign": "left", "labelBaseline": "middle", "ticks": false, "tickSize": 0, "domain": false, "labelPadding": 8}},
      "y": {"field": "row", "type": "nominal", "scale": {"type": "band", "domain": ["BV/TV","BS/BV","BS/TV","Tb.Pf","SMI","Tb.Th","Tb.N"], "paddingInner": 0, "paddingOuter": 0}, "axis": {"orient": "right", "title": null, "ticks": false, "tickSize": 0, "domain": false, "labelPadding": 2}},
      "fill": {"field": "P", "type": "quantitative", "scale": {"domain": [0, 0.05, 0.1], "range": ["#4fc3ce", "#e4e4e4", "#000000"], "clamp": true, "interpolate": "rgb"}},
      "size": {"field": "r", "type": "quantitative", "scale": {"type": "threshold", "domain": [-0.1, -0.05, 0.05, 0.1], "range": [105, 20, 8, 20, 105]}, "legend": null}
     }},
    {"mark": {"type": "point", "opacity": 0},
     "encoding": {"x": {"field": "col", "type": "nominal", "scale": {"type": "band", "domain": ["BS/BV","BS/TV","Tb.Pf","SMI","Tb.Th","Tb.N","Tb.Sp"], "paddingInner": 0, "paddingOuter": 0}, "axis": {"orient": "top", "offset": 40.5, "labels": false, "ticks": false, "domain": true, "domainColor": "#222", "title": "35 μm μCT", "titlePadding": 3}}}}
   ]},
  {"width": 86, "height": 86,
   "data": {"name": "tri"}, "transform": [{"filter": "datum.set === 'μCT' && datum.P < 0.05"}],
   "mark": {"type": "circle", "filled": false, "size": 24, "strokeWidth": 5.5, "opacity": 1},
   "encoding": {
    "x": {"field": "col", "type": "nominal", "scale": {"type": "band", "domain": ["BS/BV","BS/TV","Tb.Pf","SMI","Tb.Th","Tb.N","Tb.Sp"], "paddingInner": 0, "paddingOuter": 0}, "axis": {"orient": "top", "title": null, "labelAngle": -90, "labelAlign": "left", "labelBaseline": "middle", "ticks": false, "tickSize": 0, "domain": false, "labelPadding": 6}},
    "y": {"field": "row", "type": "nominal", "scale": {"type": "band", "domain": ["BV/TV","BS/BV","BS/TV","Tb.Pf","SMI","Tb.Th","Tb.N"], "paddingInner": 0, "paddingOuter": 0}, "axis": {"orient": "right", "title": null, "ticks": false, "tickSize": 0, "domain": false, "labelPadding": 2}},
    "stroke": {"field": "r", "type": "quantitative", "scale": {"domain": [-1, 0, 1], "range": ["#ed1c24", "#ffffff", "#23237f"], "interpolate": "rgb"}}
   }}
 ], "spacing": 36.4, "bounds": "flush"},
 {"vconcat": [
  {"width": 86, "height": 86, "title": {"text": "g", "dx": -22.3, "dy": 15},
   "data": {"name": "tri"}, "transform": [{"filter": "datum.set === 'cCT'"}],
   "resolve": {"axis": {"x": "independent"}},
   "layer": [
    {"mark": {"type": "circle", "opacity": 1},
     "encoding": {
      "x": {"field": "col", "type": "nominal", "scale": {"type": "band", "domain": ["BS/BV","BS/TV","Tb.Pf","SMI","Tb.Th","Tb.N","Tb.Sp"], "paddingInner": 0, "paddingOuter": 0}, "axis": {"orient": "top", "title": null, "labelAngle": -90, "labelAlign": "left", "labelBaseline": "middle", "ticks": false, "tickSize": 0, "domain": false, "labelPadding": 8}},
      "y": {"field": "row", "type": "nominal", "scale": {"type": "band", "domain": ["BV/TV","BS/BV","BS/TV","Tb.Pf","SMI","Tb.Th","Tb.N"], "paddingInner": 0, "paddingOuter": 0}, "axis": {"orient": "right", "title": null, "ticks": false, "tickSize": 0, "domain": false, "labelPadding": 2}},
      "fill": {"field": "P", "type": "quantitative", "scale": {"domain": [0, 0.05, 0.1], "range": ["#4fc3ce", "#e4e4e4", "#000000"], "clamp": true, "interpolate": "rgb"}},
      "size": {"field": "r", "type": "quantitative", "scale": {"type": "threshold", "domain": [-0.1, -0.05, 0.05, 0.1], "range": [105, 20, 8, 20, 105]}, "legend": null}
     }},
    {"mark": {"type": "point", "opacity": 0},
     "encoding": {"x": {"field": "col", "type": "nominal", "scale": {"type": "band", "domain": ["BS/BV","BS/TV","Tb.Pf","SMI","Tb.Th","Tb.N","Tb.Sp"], "paddingInner": 0, "paddingOuter": 0}, "axis": {"orient": "top", "offset": 40.5, "labels": false, "ticks": false, "domain": true, "domainColor": "#222", "title": "287 μm cCT", "titlePadding": 3}}}}
   ]},
  {"width": 86, "height": 86,
   "data": {"name": "tri"}, "transform": [{"filter": "datum.set === 'cCT' && datum.P < 0.05"}],
   "mark": {"type": "circle", "filled": false, "size": 24, "strokeWidth": 5.5, "opacity": 1},
   "encoding": {
    "x": {"field": "col", "type": "nominal", "scale": {"type": "band", "domain": ["BS/BV","BS/TV","Tb.Pf","SMI","Tb.Th","Tb.N","Tb.Sp"], "paddingInner": 0, "paddingOuter": 0}, "axis": {"orient": "top", "title": null, "labelAngle": -90, "labelAlign": "left", "labelBaseline": "middle", "ticks": false, "tickSize": 0, "domain": false, "labelPadding": 6}},
    "y": {"field": "row", "type": "nominal", "scale": {"type": "band", "domain": ["BV/TV","BS/BV","BS/TV","Tb.Pf","SMI","Tb.Th","Tb.N"], "paddingInner": 0, "paddingOuter": 0}, "axis": {"orient": "right", "title": null, "ticks": false, "tickSize": 0, "domain": false, "labelPadding": 2}},
    "stroke": {"field": "r", "type": "quantitative", "scale": {"domain": [-1, 0, 1], "range": ["#ed1c24", "#ffffff", "#23237f"], "interpolate": "rgb"}}
   }}
 ], "spacing": 36.4, "bounds": "flush"},
 {"vconcat": [
  {"width": 86, "height": 86, "title": {"text": "h", "dx": -22.3, "dy": 12},
   "data": {"name": "tri"}, "transform": [{"filter": "datum.set === 'in vivo'"}],
   "resolve": {"axis": {"x": "independent"}},
   "layer": [
    {"mark": {"type": "circle", "opacity": 1},
     "encoding": {
      "x": {"field": "col", "type": "nominal", "scale": {"type": "band", "domain": ["BS/BV","BS/TV","Tb.Pf","SMI","Tb.Th","Tb.N","Tb.Sp"], "paddingInner": 0, "paddingOuter": 0}, "axis": {"orient": "top", "title": null, "labelAngle": -90, "labelAlign": "left", "labelBaseline": "middle", "ticks": false, "tickSize": 0, "domain": false, "labelPadding": 8}},
      "y": {"field": "row", "type": "nominal", "scale": {"type": "band", "domain": ["BV/TV","BS/BV","BS/TV","Tb.Pf","SMI","Tb.Th","Tb.N"], "paddingInner": 0, "paddingOuter": 0}, "axis": {"orient": "right", "title": null, "ticks": false, "tickSize": 0, "domain": false, "labelPadding": 2}},
      "fill": {"field": "P", "type": "quantitative", "scale": {"domain": [0, 0.05, 0.1], "range": ["#4fc3ce", "#e4e4e4", "#000000"], "clamp": true, "interpolate": "rgb"}},
      "size": {"field": "r", "type": "quantitative", "scale": {"type": "threshold", "domain": [-0.1, -0.05, 0.05, 0.1], "range": [105, 20, 8, 20, 105]}, "legend": null}
     }},
    {"mark": {"type": "point", "opacity": 0},
     "encoding": {"x": {"field": "col", "type": "nominal", "scale": {"type": "band", "domain": ["BS/BV","BS/TV","Tb.Pf","SMI","Tb.Th","Tb.N","Tb.Sp"], "paddingInner": 0, "paddingOuter": 0}, "axis": {"orient": "top", "offset": 40.5, "labels": false, "ticks": false, "domain": true, "domainColor": "#222", "title": "331 μm in vivo cCT", "titlePadding": 3}}}}
   ]},
  {"width": 86, "height": 86,
   "data": {"name": "tri"}, "transform": [{"filter": "datum.set === 'in vivo' && datum.P < 0.05"}],
   "mark": {"type": "circle", "filled": false, "size": 24, "strokeWidth": 5.5, "opacity": 1},
   "encoding": {
    "x": {"field": "col", "type": "nominal", "scale": {"type": "band", "domain": ["BS/BV","BS/TV","Tb.Pf","SMI","Tb.Th","Tb.N","Tb.Sp"], "paddingInner": 0, "paddingOuter": 0}, "axis": {"orient": "top", "title": null, "labelAngle": -90, "labelAlign": "left", "labelBaseline": "middle", "ticks": false, "tickSize": 0, "domain": false, "labelPadding": 6}},
    "y": {"field": "row", "type": "nominal", "scale": {"type": "band", "domain": ["BV/TV","BS/BV","BS/TV","Tb.Pf","SMI","Tb.Th","Tb.N"], "paddingInner": 0, "paddingOuter": 0}, "axis": {"orient": "right", "title": null, "ticks": false, "tickSize": 0, "domain": false, "labelPadding": 2}},
    "stroke": {"field": "r", "type": "quantitative", "scale": {"domain": [-1, 0, 1], "range": ["#ed1c24", "#ffffff", "#23237f"], "interpolate": "rgb"}}
   }}
 ], "spacing": 36.4, "bounds": "flush"}
 ], "spacing": 36}
], "spacing": -4.1},
{"hconcat": [
 {"width": 1, "height": 1, "data": {"values": []}, "mark": "point"},
 {"concat": [
 {"width": 73.5, "height": 76.5, "view": {"stroke": "#555"}, "title": {"text": "i", "dx": -51.3, "dy": 11},
  "data": {"name": "si"}, "resolve": {"axis": {"x": "independent", "y": "independent"}},
  "layer": [
   {"mark": {"type": "circle", "size": 24, "opacity": 1},
    "encoding": {
     "x": {"field": "x", "type": "quantitative", "scale": {"domain": [0, 60], "nice": false}, "axis": {"title": "BV/TV (%)", "values": [0, 20, 40, 60]}},
     "y": {"field": "y", "type": "quantitative", "scale": {"domain": [0, 0.5], "nice": false}, "axis": {"title": "Tb.Th (mm)", "values": [0, 0.2, 0.4], "format": ".1f"}},
     "color": {"field": "group", "type": "nominal", "scale": {"domain": ["μCT mOA", "μCT sOA", " ", "cCT mOA", "cCT sOA", "  ", "In vivo cCT mOA", "In vivo cCT sOA"], "range": ["#2d50b0", "#1f2470", "transparent", "#f26a22", "#c96a2c", "transparent", "#d6168c", "#7b1014"]}}}},
   {"transform": [{"regression": "y", "on": "x"}], "mark": {"type": "line", "color": "#ec1c24", "strokeWidth": 1.8},
    "encoding": {
     "x": {"field": "x", "type": "quantitative", "scale": {"domain": [0, 60], "nice": false}, "axis": {"orient": "top", "title": "P = 2.7 × 10⁻⁶, r = 0.845", "titleX": 38.7, "labels": false, "ticks": false, "domain": false, "titlePadding": 9}},
     "y": {"field": "y", "type": "quantitative", "scale": {"domain": [0, 0.5], "nice": false}, "axis": null}}}
  ]},
 {"width": 73.5, "height": 76.5, "view": {"stroke": "#555"}, "title": {"text": "j", "dx": -15.8, "dy": 11},
  "data": {"name": "sj"}, "resolve": {"axis": {"x": "independent", "y": "independent"}},
  "layer": [
   {"mark": {"type": "circle", "size": 24, "opacity": 1},
    "encoding": {
     "x": {"field": "x", "type": "quantitative", "scale": {"domain": [0, 100], "nice": false}, "axis": {"title": "BV/TV (%)", "values": [0, 20, 40, 60, 80, 100], "labelFontSize": 9}},
     "y": {"field": "y", "type": "quantitative", "scale": {"domain": [0, 1], "nice": false}, "axis": {"title": "Tb.Th (mm)", "values": [0, 0.5, 1], "format": ".1f"}},
     "color": {"field": "group", "type": "nominal", "scale": {"domain": ["μCT mOA", "μCT sOA", " ", "cCT mOA", "cCT sOA", "  ", "In vivo cCT mOA", "In vivo cCT sOA"], "range": ["#2d50b0", "#1f2470", "transparent", "#f26a22", "#c96a2c", "transparent", "#d6168c", "#7b1014"]}}}},
   {"transform": [{"regression": "y", "on": "x"}], "mark": {"type": "line", "color": "#ec1c24", "strokeWidth": 1.8},
    "encoding": {
     "x": {"field": "x", "type": "quantitative", "scale": {"domain": [0, 100], "nice": false}, "axis": {"orient": "top", "title": "P = 1.6 × 10⁻⁸, r = 0.915", "titleX": 64.5, "labels": false, "ticks": false, "domain": false, "titlePadding": 9}},
     "y": {"field": "y", "type": "quantitative", "scale": {"domain": [0, 1], "nice": false}, "axis": null}}}
  ]},
 {"width": 73.5, "height": 76.5, "view": {"stroke": "#555"}, "title": {"text": "k", "dx": 3.4, "dy": 11},
  "data": {"name": "sk"}, "resolve": {"axis": {"x": "independent", "y": "independent"}},
  "layer": [
   {"mark": {"type": "circle", "size": 24, "opacity": 1},
    "encoding": {
     "x": {"field": "x", "type": "quantitative", "scale": {"domain": [0, 80], "nice": false}, "axis": {"title": "BV/TV (%)", "values": [0, 20, 40, 60, 80]}},
     "y": {"field": "y", "type": "quantitative", "scale": {"domain": [0, 2], "nice": false}, "axis": {"title": "Tb.Th (mm)", "values": [0, 0.5, 1, 1.5, 2], "format": ".1f"}},
     "color": {"field": "group", "type": "nominal", "scale": {"domain": ["μCT mOA", "μCT sOA", " ", "cCT mOA", "cCT sOA", "  ", "In vivo cCT mOA", "In vivo cCT sOA"], "range": ["#2d50b0", "#1f2470", "transparent", "#f26a22", "#c96a2c", "transparent", "#d6168c", "#7b1014"]}}}},
   {"transform": [{"regression": "y", "on": "x"}], "mark": {"type": "line", "color": "#ec1c24", "strokeWidth": 1.8},
    "encoding": {
     "x": {"field": "x", "type": "quantitative", "scale": {"domain": [0, 80], "nice": false}, "axis": {"orient": "top", "title": "P = 3.5 × 10⁻⁵, r = 0.817", "titleX": 83.5, "labels": false, "ticks": false, "domain": false, "titlePadding": 9}},
     "y": {"field": "y", "type": "quantitative", "scale": {"domain": [0, 2], "nice": false}, "axis": null}}}
  ]},
 {"width": 73.5, "height": 76.5, "view": {"stroke": "#555"}, "title": {"text": "l", "dx": -51.3, "dy": 9},
  "data": {"name": "sl"}, "resolve": {"axis": {"x": "independent", "y": "independent"}},
  "layer": [
   {"mark": {"type": "circle", "size": 24, "opacity": 1},
    "encoding": {
     "x": {"field": "x", "type": "quantitative", "scale": {"domain": [0, 6], "nice": false}, "axis": {"title": "BS/TV (1/mm)", "values": [0, 2, 4, 6]}},
     "y": {"field": "y", "type": "quantitative", "scale": {"domain": [0, 2], "nice": false}, "axis": {"title": "Tb.N (1/mm)", "values": [0, 0.5, 1, 1.5, 2], "format": ".1f"}},
     "color": {"field": "group", "type": "nominal", "scale": {"domain": ["μCT mOA", "μCT sOA", " ", "cCT mOA", "cCT sOA", "  ", "In vivo cCT mOA", "In vivo cCT sOA"], "range": ["#2d50b0", "#1f2470", "transparent", "#f26a22", "#c96a2c", "transparent", "#d6168c", "#7b1014"]}}}},
   {"transform": [{"regression": "y", "on": "x"}], "mark": {"type": "line", "color": "#ec1c24", "strokeWidth": 1.8},
    "encoding": {
     "x": {"field": "x", "type": "quantitative", "scale": {"domain": [0, 6], "nice": false}, "axis": {"orient": "top", "title": "P = 1.3 × 10⁻¹⁵, r = 0.987", "titleX": 28.7, "labels": false, "ticks": false, "domain": false, "titlePadding": 9}},
     "y": {"field": "y", "type": "quantitative", "scale": {"domain": [0, 2], "nice": false}, "axis": null}}}
  ]},
 {"width": 73.5, "height": 76.5, "view": {"stroke": "#555"}, "title": {"text": "m", "dx": -41.1, "dy": 9},
  "data": {"name": "sm"}, "resolve": {"axis": {"x": "independent", "y": "independent"}},
  "layer": [
   {"mark": {"type": "circle", "size": 24, "opacity": 1},
    "encoding": {
     "x": {"field": "x", "type": "quantitative", "scale": {"domain": [0, 8], "nice": false}, "axis": {"title": "BS/TV (1/mm)", "values": [0, 2, 4, 6, 8]}},
     "y": {"field": "y", "type": "quantitative", "scale": {"domain": [0, 2], "nice": false}, "axis": {"title": "Tb.N (1/mm)", "values": [0, 0.5, 1, 1.5, 2], "format": ".1f"}},
     "color": {"field": "group", "type": "nominal", "scale": {"domain": ["μCT mOA", "μCT sOA", " ", "cCT mOA", "cCT sOA", "  ", "In vivo cCT mOA", "In vivo cCT sOA"], "range": ["#2d50b0", "#1f2470", "transparent", "#f26a22", "#c96a2c", "transparent", "#d6168c", "#7b1014"]}}}},
   {"transform": [{"regression": "y", "on": "x"}], "mark": {"type": "line", "color": "#ec1c24", "strokeWidth": 1.8},
    "encoding": {
     "x": {"field": "x", "type": "quantitative", "scale": {"domain": [0, 8], "nice": false}, "axis": {"orient": "top", "title": "P = 1.8 × 10⁻¹⁵, r = 0.986", "titleX": 31.2, "labels": false, "ticks": false, "domain": false, "titlePadding": 9}},
     "y": {"field": "y", "type": "quantitative", "scale": {"domain": [0, 2], "nice": false}, "axis": null}}}
  ]},
 {"width": 73.5, "height": 76.5, "view": {"stroke": "#555"}, "title": {"text": "n", "dx": -43.3, "dy": 9},
  "data": {"name": "sn"}, "resolve": {"axis": {"x": "independent", "y": "independent"}},
  "layer": [
   {"mark": {"type": "circle", "size": 24, "opacity": 1},
    "encoding": {
     "x": {"field": "x", "type": "quantitative", "scale": {"domain": [0, 3], "nice": false}, "axis": {"title": "BS/TV (1/mm)", "values": [0, 1, 2, 3]}},
     "y": {"field": "y", "type": "quantitative", "scale": {"domain": [0, 1], "nice": false}, "axis": {"title": "Tb.N (1/mm)", "values": [0, 0.5, 1], "format": ".1f"}},
     "color": {"field": "group", "type": "nominal", "scale": {"domain": ["μCT mOA", "μCT sOA", " ", "cCT mOA", "cCT sOA", "  ", "In vivo cCT mOA", "In vivo cCT sOA"], "range": ["#2d50b0", "#1f2470", "transparent", "#f26a22", "#c96a2c", "transparent", "#d6168c", "#7b1014"]}}}},
   {"transform": [{"regression": "y", "on": "x"}], "mark": {"type": "line", "color": "#ec1c24", "strokeWidth": 1.8},
    "encoding": {
     "x": {"field": "x", "type": "quantitative", "scale": {"domain": [0, 3], "nice": false}, "axis": {"orient": "top", "title": "P = 1.6 × 10⁻⁹, r = 0.950", "titleX": 31.5, "labels": false, "ticks": false, "domain": false, "titlePadding": 9}},
     "y": {"field": "y", "type": "quantitative", "scale": {"domain": [0, 1], "nice": false}, "axis": null}}}
  ]},
 {"width": 73.5, "height": 76.5, "view": {"stroke": "#555"}, "title": {"text": "o", "dx": -51.3, "dy": 11},
  "data": {"name": "so"}, "resolve": {"axis": {"x": "independent", "y": "independent"}},
  "layer": [
   {"mark": {"type": "rule", "strokeDash": [2, 2], "color": "#333", "strokeWidth": 1}, "encoding": {"y": {"datum": 0, "type": "quantitative", "scale": {"domain": [-10, 10], "nice": false}, "axis": null}}},
   {"mark": {"type": "circle", "size": 24, "opacity": 1},
    "encoding": {
     "x": {"field": "x", "type": "quantitative", "scale": {"domain": [0, 2], "nice": false}, "axis": {"title": "Tb.N (1/mm)", "values": [0, 0.5, 1, 1.5, 2], "format": ".1f"}},
     "y": {"field": "y", "type": "quantitative", "scale": {"domain": [-10, 10], "nice": false}, "axis": {"title": "Tb.Pf (1/mm)", "values": [-10, -5, 0, 5, 10]}},
     "color": {"field": "group", "type": "nominal", "scale": {"domain": ["μCT mOA", "μCT sOA", " ", "cCT mOA", "cCT sOA", "  ", "In vivo cCT mOA", "In vivo cCT sOA"], "range": ["#2d50b0", "#1f2470", "transparent", "#f26a22", "#c96a2c", "transparent", "#d6168c", "#7b1014"]}}}},
   {"transform": [{"regression": "y", "on": "x"}], "mark": {"type": "line", "color": "#ec1c24", "strokeWidth": 1.8},
    "encoding": {
     "x": {"field": "x", "type": "quantitative", "scale": {"domain": [0, 2], "nice": false}, "axis": {"orient": "top", "title": "P = 8.8 × 10⁻⁷, r = -0.864", "titleX": 28.7, "labels": false, "ticks": false, "domain": false, "titlePadding": 9}},
     "y": {"field": "y", "type": "quantitative", "scale": {"domain": [-10, 10], "nice": false}, "axis": null}}}
  ]},
 {"width": 73.5, "height": 76.5, "view": {"stroke": "#555"}, "title": {"text": "p", "dx": -39.8, "dy": 11},
  "data": {"name": "sp"}, "resolve": {"axis": {"x": "independent", "y": "independent"}},
  "layer": [
   {"mark": {"type": "rule", "strokeDash": [2, 2], "color": "#333", "strokeWidth": 1}, "encoding": {"y": {"datum": 0, "type": "quantitative", "scale": {"domain": [-5, 15], "nice": false}, "axis": null}}},
   {"mark": {"type": "circle", "size": 24, "opacity": 1},
    "encoding": {
     "x": {"field": "x", "type": "quantitative", "scale": {"domain": [0, 2], "nice": false}, "axis": {"title": "Tb.N (1/mm)", "values": [0, 0.5, 1, 1.5, 2], "format": ".1f"}},
     "y": {"field": "y", "type": "quantitative", "scale": {"domain": [-5, 15], "nice": false}, "axis": {"title": "Tb.Pf (1/mm)", "values": [-5, 0, 5, 10, 15]}},
     "color": {"field": "group", "type": "nominal", "scale": {"domain": ["μCT mOA", "μCT sOA", " ", "cCT mOA", "cCT sOA", "  ", "In vivo cCT mOA", "In vivo cCT sOA"], "range": ["#2d50b0", "#1f2470", "transparent", "#f26a22", "#c96a2c", "transparent", "#d6168c", "#7b1014"]}}}},
   {"transform": [{"regression": "y", "on": "x"}], "mark": {"type": "line", "color": "#ec1c24", "strokeWidth": 1.8},
    "encoding": {
     "x": {"field": "x", "type": "quantitative", "scale": {"domain": [0, 2], "nice": false}, "axis": {"orient": "top", "title": "P = 4.4 × 10⁻⁸, r = -0.905", "titleX": 32, "labels": false, "ticks": false, "domain": false, "titlePadding": 9}},
     "y": {"field": "y", "type": "quantitative", "scale": {"domain": [-5, 15], "nice": false}, "axis": null}}}
  ]},
 {"width": 73.5, "height": 76.5, "view": {"stroke": "#555"}, "title": {"text": "q", "dx": -43.3, "dy": 11},
  "data": {"name": "sq"}, "resolve": {"axis": {"x": "independent", "y": "independent"}},
  "layer": [
   {"mark": {"type": "rule", "strokeDash": [2, 2], "color": "#333", "strokeWidth": 1}, "encoding": {"y": {"datum": 0, "type": "quantitative", "scale": {"domain": [-3, 2], "nice": false}, "axis": null}}},
   {"mark": {"type": "circle", "size": 24, "opacity": 1},
    "encoding": {
     "x": {"field": "x", "type": "quantitative", "scale": {"domain": [0, 0.8], "nice": false}, "axis": {"title": "Tb.N (1/mm)", "values": [0, 0.2, 0.4, 0.6, 0.8], "format": ".1f"}},
     "y": {"field": "y", "type": "quantitative", "scale": {"domain": [-3, 2], "nice": false}, "axis": {"title": "Tb.Pf (1/mm)", "values": [-3, -2, -1, 0, 1, 2]}},
     "color": {"field": "group", "type": "nominal", "scale": {"domain": ["μCT mOA", "μCT sOA", " ", "cCT mOA", "cCT sOA", "  ", "In vivo cCT mOA", "In vivo cCT sOA"], "range": ["#2d50b0", "#1f2470", "transparent", "#f26a22", "#c96a2c", "transparent", "#d6168c", "#7b1014"]}}}},
   {"transform": [{"regression": "y", "on": "x"}], "mark": {"type": "line", "color": "#ec1c24", "strokeWidth": 1.8},
    "encoding": {
     "x": {"field": "x", "type": "quantitative", "scale": {"domain": [0, 0.8], "nice": false}, "axis": {"orient": "top", "title": "P = 2.4 × 10⁻⁶, r = -0.872", "titleX": 29.2, "labels": false, "ticks": false, "domain": false, "titlePadding": 9}},
     "y": {"field": "y", "type": "quantitative", "scale": {"domain": [-3, 2], "nice": false}, "axis": null}}}
  ]}
 ], "columns": 3, "spacing": {"row": 71, "column": 78}, "bounds": "flush"}
], "spacing": -4.1}
], "columns": 1, "spacing": 13}
],
"columns": 1,
"spacing": -1,
"config": {
 "font": "Lato",
 "view": {"stroke": null},
 "axis": {"labelFontSize": 10, "titleFontSize": 10, "titleFontWeight": "normal", "labelColor": "#222", "titleColor": "#222", "domainColor": "#333", "tickColor": "#333", "tickSize": 3, "grid": false, "labelPadding": 2, "titlePadding": 4, "labelOverlap": false, "labelFlush": false},
 "title": {"fontSize": 11, "fontWeight": "bold", "anchor": "start", "frame": "group", "offset": 0, "color": "#111"},
 "legend": {"labelFontSize": 10, "titleFontSize": 10, "titleFontWeight": "normal", "labelColor": "#222", "titleColor": "#222", "padding": 0}
}
}
